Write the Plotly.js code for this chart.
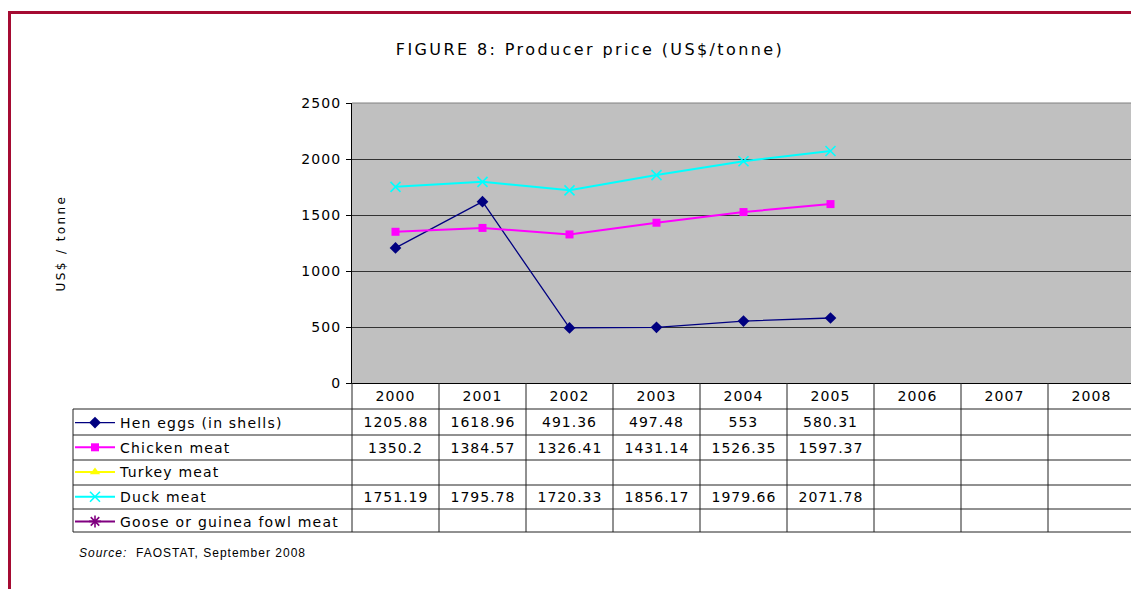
<!DOCTYPE html>
<html>
<head>
<meta charset="utf-8">
<script src="https://cdn.plot.ly/plotly-3.0.1.min.js"></script>
<style>
html,body{margin:0;padding:0;background:#fff;overflow:hidden;}
#frame{position:absolute;left:8px;top:11px;width:1200px;height:600px;border-top:3px solid #A50B32;border-left:3px solid #A50B32;}
#chart{position:absolute;left:0;top:0;width:1140px;height:589px;}
#chart .gtitle{letter-spacing:2.4px;}
#chart .ytitle{letter-spacing:2.4px;}
#chart .xtick text, #chart .ytick text{letter-spacing:1.1px;}
#chart .legendtext{letter-spacing:1.2px;}
#chart .legend .scrollbox{clip-path:none !important;}
#chart .annotation-text{letter-spacing:1px;}
</style>
</head>
<body>
<div id="frame"></div>
<div id="chart"></div>
<script>
const years = ['2000','2001','2002','2003','2004','2005','2006','2007','2008'];
const seriesNames = ['Hen eggs (in shells)','Chicken meat','Turkey meat','Duck meat','Goose or guinea fowl meat'];
const henEggs = [1205.88, 1618.96, 491.36, 497.48, 553, 580.31, null, null, null];
const chickenMeat = [1350.2, 1384.57, 1326.41, 1431.14, 1526.35, 1597.37, null, null, null];
const turkeyMeat = [null, null, null, null, null, null, null, null, null];
const duckMeat = [1751.19, 1795.78, 1720.33, 1856.17, 1979.66, 2071.78, null, null, null];
const gooseMeat = [null, null, null, null, null, null, null, null, null];
const yTicks = [0, 500, 1000, 1500, 2000, 2500];

const allSeries = [henEggs, chickenMeat, turkeyMeat, duckMeat, gooseMeat];
const colors = ['#000080', '#FF00FF', '#FFFF00', '#00FFFF', '#800080'];
const symbols = ['diamond', 'square', 'triangle-up', 'x-thin-open', 'asterisk-open'];
const sizes = [9, 8, 9, 10, 10];

const W = 1140, H = 589;
const L = 352, R = 1135, T = 103, B = 383;
const pw = R - L, ph = B - T;
const px = v => (v - L) / pw;
const py = v => (B - v) / ph;

const traces = allSeries.map((vals, i) => ({
  type: 'scatter',
  mode: 'lines+markers',
  name: seriesNames[i],
  x: years,
  y: vals,
  legendgroup: 'g' + i,
  line: {color: colors[i], width: i === 0 ? 1.3 : 2},
  marker: {symbol: symbols[i], size: sizes[i], color: colors[i], line: {color: colors[i], width: (i === 3 || i === 4) ? 1.6 : 0}},
  cliponaxis: false
}));

// table grid
const rowLines = [409, 435, 460, 485, 509, 532];
const shapes = [];
const lineC = '#222';
rowLines.forEach(r => shapes.push({type:'line', xref:'paper', yref:'paper', x0:px(73), x1:1, y0:py(r), y1:py(r), line:{color:lineC, width:1}}));
for (let k = 0; k <= years.length; k++) {
  shapes.push({type:'line', xref:'paper', yref:'paper', x0:k/years.length, x1:k/years.length, y0:0, y1:py(532), line:{color:lineC, width:1}});
}
shapes.push({type:'line', xref:'paper', yref:'paper', x0:px(73), x1:px(73), y0:py(409), y1:py(532), line:{color:lineC, width:1}});
shapes.push({type:'line', xref:'paper', yref:'paper', x0:0, x1:1, y0:1, y1:1, line:{color:'#808080', width:1}});

// table values
const annotations = [];
const rowCenters = rowLines.slice(0, -1).map((r, i) => (r + rowLines[i + 1]) / 2);
allSeries.forEach((vals, i) => {
  vals.forEach((v, j) => {
    if (v === null) return;
    annotations.push({xref:'x', yref:'paper', x:j, y:py(rowCenters[i]), text:String(v), showarrow:false, xanchor:'center', yanchor:'middle', font:{family:'DejaVu Sans', size:14, color:'#000'}});
  });
});
annotations.push({xref:'paper', yref:'paper', x:px(77), y:py(553), xanchor:'left', yanchor:'middle', align:'left', showarrow:false,
  text:'<i>Source:</i>  FAOSTAT, September 2008', font:{family:'Liberation Sans', size:12, color:'#000'}});

const layout = {
  width: W, height: H,
  margin: {l: L, r: W - R, t: T, b: H - B, pad: 0},
  paper_bgcolor: 'rgba(0,0,0,0)',
  plot_bgcolor: '#C0C0C0',
  font: {family: 'DejaVu Sans', color: '#000'},
  title: {text: 'FIGURE 8: Producer price (US$/tonne)', xref: 'container', yref: 'container', x: 590 / W, xanchor: 'center', y: 1 - 49 / H, yanchor: 'middle', font: {family: 'DejaVu Sans', size: 16, color: '#000'}},
  showlegend: true,
  legend: {x: px(70), y: py(407), xanchor: 'left', yanchor: 'top', traceorder: 'grouped', tracegroupgap: 3.5, itemwidth: 40, font: {family: 'DejaVu Sans', size: 14, color: '#000'}, bgcolor: 'rgba(0,0,0,0)', borderwidth: 0, itemclick: false},
  xaxis: {type: 'category', categoryorder: 'array', categoryarray: years, range: [-0.5, years.length - 0.5], showgrid: false, zeroline: false, showline: true, linecolor: '#000', linewidth: 1, ticks: '', ticklabelstandoff: 0, tickfont: {family: 'DejaVu Sans', size: 14, color: '#000'}, fixedrange: true},
  yaxis: {range: [0, 2500], tickvals: yTicks, ticktext: yTicks.map(String), showgrid: true, gridcolor: '#333', gridwidth: 1, zeroline: false, showline: true, linecolor: '#000', linewidth: 1, ticks: 'outside', ticklen: 5, tickcolor: '#000', ticklabelstandoff: 2, tickfont: {family: 'DejaVu Sans', size: 14, color: '#000'}, title: {text: 'US$ / tonne', standoff: 237, font: {family: 'DejaVu Sans', size: 12, color: '#000'}}, fixedrange: true},
  shapes: shapes,
  annotations: annotations
};

Plotly.newPlot('chart', traces, layout, {displayModeBar: false, staticPlot: true});
</script>
</body>
</html>
